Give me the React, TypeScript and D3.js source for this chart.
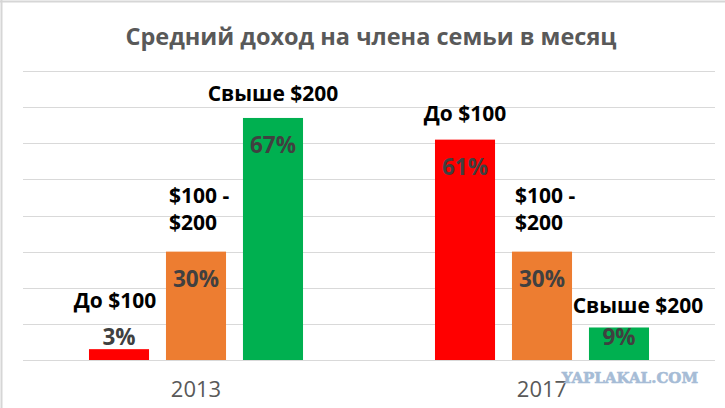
import React from 'react';
import * as d3 from 'd3';

// chart data
const years = ['2013', '2017'];
const brackets = ['До $100', '$100 - $200', 'Свыше $200'];
const bracketLines = [['До $100'], ['$100 -', '$200'], ['Свыше $200']];
const values2013 = [3, 30, 67];
const values2017 = [61, 30, 9];
const seriesByYear = [values2013, values2017];
const barColors = ['#ff0000', '#ed7d31', '#00b050'];
const title = 'Средний доход на члена семьи в месяц';

const width = 725;
const height = 408;
const plot = { left: 23, right: 715, top: 71, bottom: 360 };

// hand nudges for the category labels (Excel-style manual placement)
const labelNudge: Record<string, { dx: number; dy: number }> = {
  '0-0': { dx: -4, dy: -6 },
  '1-2': { dx: 19, dy: 3 },
  '1-0': { dx: 0, dy: -2 },
};

const App: React.FC = () => {
  const x0 = d3.scaleBand<string>().domain(years).range([plot.left, plot.right]).padding(0);
  const x1 = d3
    .scaleBand<string>()
    .domain(brackets)
    .range([0, x0.bandwidth()])
    .paddingInner(0.22)
    .paddingOuter(0.857);
  const y = d3.scaleLinear().domain([0, 80]).range([plot.bottom, plot.top]);
  const ticks = y.ticks(8);

  const bars = years.flatMap((yr, gi) =>
    brackets.map((b, bi) => ({ yr, gi, b, bi, v: seriesByYear[gi][bi] }))
  );

  return (
    <div style={{ position: 'absolute', left: 0, top: 0 }}>
      <svg width={width} height={height} style={{ display: 'block', background: '#fff' }}>
        {/* screenshot frame */}
        <line x1={0} x2={width} y1={1.5} y2={1.5} stroke="#d6d6d6" strokeWidth={2} />
        <line x1={1.5} x2={1.5} y1={0} y2={height} stroke="#d6d6d6" strokeWidth={2} />

        <text
          x={371}
          y={45}
          textAnchor="middle"
          fontFamily="'Open Sans', sans-serif"
          fontWeight={700}
          fontSize={23.5}
          fill="#595959"
        >
          {title}
        </text>

        {/* gridlines */}
        {ticks.map(t => (
          <line
            key={t}
            x1={plot.left}
            x2={plot.right}
            y1={Math.round(y(t)) + 0.5}
            y2={Math.round(y(t)) + 0.5}
            stroke="#d9d9d9"
            strokeWidth={1}
          />
        ))}

        {bars.map(d => {
          const bx = x0(d.yr)! + x1(d.b)!;
          const bw = x1.bandwidth();
          const top = y(d.v);
          const valueBase = Math.min(top + 35, plot.bottom - 15);
          const anchorTop = Math.min(top, valueBase - 14);
          const lines = bracketLines[d.bi];
          const nudge = labelNudge[`${d.gi}-${d.bi}`] || { dx: 0, dy: 0 };
          const twoLine = lines.length > 1;
          const lastBase = anchorTop - (twoLine ? 22 : 17) + nudge.dy;
          return (
            <g key={`${d.yr}-${d.b}`}>
              <rect x={bx} y={top} width={bw} height={plot.bottom - top} fill={barColors[d.bi]} />
              <text
                x={bx + bw / 2}
                y={valueBase}
                textAnchor="middle"
                fontFamily="'Open Sans', sans-serif"
                fontWeight={700}
                fontSize={22.5}
                fill="#404040"
              >
                {`${d.v}%`}
              </text>
              <text
                x={twoLine ? bx + 3 : bx + bw / 2 + nudge.dx}
                textAnchor={twoLine ? 'start' : 'middle'}
                fontFamily="'Open Sans', sans-serif"
                fontWeight={700}
                fontSize={21}
                fill="#000"
              >
                {lines.map((ln, li) => (
                  <tspan
                    key={li}
                    x={twoLine ? bx + 3 : bx + bw / 2 + nudge.dx}
                    y={lastBase - (lines.length - 1 - li) * 27}
                  >
                    {ln}
                  </tspan>
                ))}
              </text>
            </g>
          );
        })}

        {/* category axis */}
        {years.map(yr => (
          <text
            key={yr}
            x={x0(yr)! + x0.bandwidth() / 2}
            y={397}
            textAnchor="middle"
            fontFamily="'Open Sans', sans-serif"
            fontWeight={500}
            fontSize={22}
            fill="#595959"
          >
            {yr}
          </text>
        ))}

        <text
          x={698}
          y={383}
          textAnchor="end"
          fontFamily="'DejaVu Serif', serif"
          fontWeight={900}
          fontSize={15}
          fill="#a6bcd6"
          stroke="#a6bcd6"
          strokeWidth={0.6}
        >
          YAPLAKAL.COM
        </text>
      </svg>
    </div>
  );
};

export default App;
